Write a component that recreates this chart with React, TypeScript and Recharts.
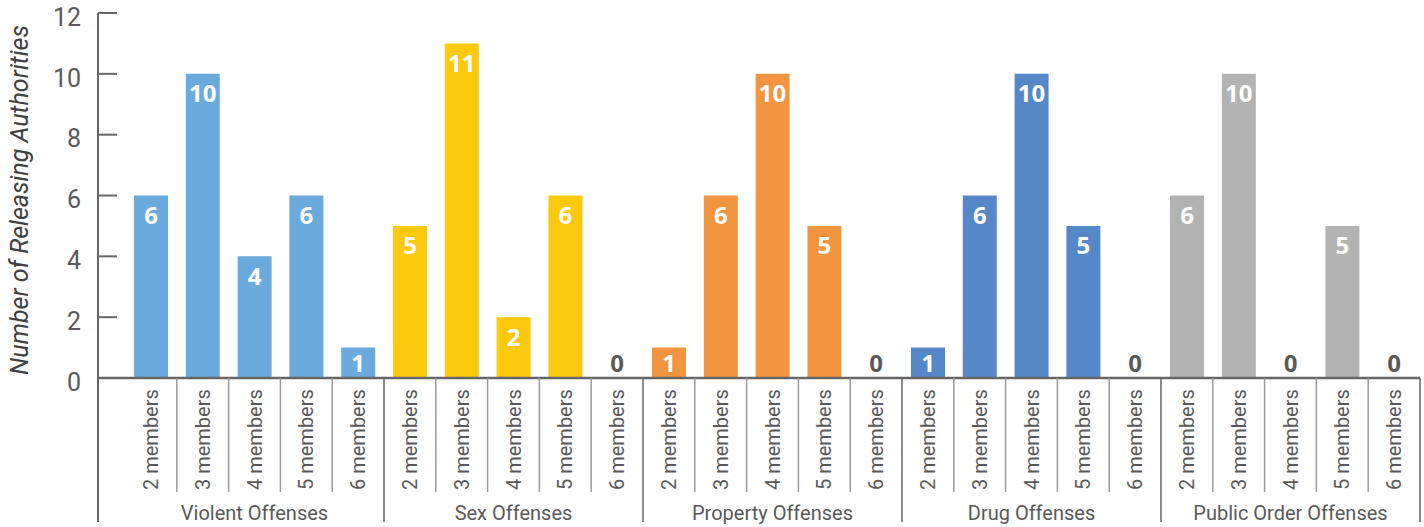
import React from 'react';
import { BarChart, Bar, XAxis, YAxis, Cell, LabelList } from 'recharts';

const groups = ['Violent Offenses', 'Sex Offenses', 'Property Offenses', 'Drug Offenses', 'Public Order Offenses'];
const members = ['2 members', '3 members', '4 members', '5 members', '6 members'];
const groupColors = ['#6AAADD', '#FDC90C', '#F39440', '#5687C8', '#B3B3B3'];

const violent = [6, 10, 4, 6, 1];
const sex = [5, 11, 2, 6, 0];
const property = [1, 6, 10, 5, 0];
const drug = [1, 6, 10, 5, 0];
const publicOrder = [6, 10, 0, 5, 0];
const yTicks = [0, 2, 4, 6, 8, 10, 12];

const seriesByGroup = [violent, sex, property, drug, publicOrder];

const data = groups.flatMap((g, gi) =>
  members.map((m, mi) => ({
    key: `${g}-${m}`,
    group: g,
    member: m,
    value: seriesByGroup[gi][mi],
    color: groupColors[gi],
  }))
);

const W = 1424;
const H = 527;
const PLOT_LEFT = 98;
const PLOT_RIGHT = 1420;
const PLOT_TOP = 13;
const PLOT_BOTTOM = 378;
const PAD_LEFT = 27;
const BAND = (PLOT_RIGHT - PLOT_LEFT - PAD_LEFT) / data.length;
const AXIS = '#666666';
const TEXT = '#595959';
const FONT = 'Roboto, "Open Sans", sans-serif';
const LABEL_FONT = '"Open Sans", Roboto, sans-serif';

function YTick({ y, payload }: any) {
  return (
    <g>
      <line x1={PLOT_LEFT} x2={PLOT_LEFT + 19} y1={y} y2={y} stroke={AXIS} strokeWidth={2} />
      <text x={PLOT_LEFT - 17} y={y + 4} dy="0.35em" textAnchor="end" fontSize={25} fill={TEXT} fontFamily={FONT}>
        {payload.value}
      </text>
    </g>
  );
}

function XTick({ x, index }: any) {
  const d = data[index];
  const right = x + BAND / 2;
  const groupEnd = index % 5 === 4;
  return (
    <g>
      {index === 0 && (
        <line x1={PLOT_LEFT} x2={PLOT_LEFT} y1={PLOT_BOTTOM} y2={522} stroke={AXIS} strokeWidth={2} />
      )}
      <line
        x1={right}
        x2={right}
        y1={PLOT_BOTTOM}
        y2={groupEnd ? 522 : 492}
        stroke={groupEnd ? AXIS : '#9a9a9a'}
        strokeWidth={1.5}
      />
      <text
        x={x}
        y={490}
        transform={`rotate(-90 ${x} 490)`}
        textAnchor="start"
        dominantBaseline="central"
        fontSize={20}
        fill={TEXT}
        fontFamily={FONT}
      >
        {d.member}
      </text>
      {index % 5 === 2 && (
        <text x={x} y={513} textAnchor="middle" dominantBaseline="central" fontSize={20} fill={TEXT} fontFamily={FONT}>
          {d.group}
        </text>
      )}
    </g>
  );
}

function ValueLabel({ x, y, width, value }: any) {
  const cx = x + width / 2;
  const cy = Math.min(y + 19, PLOT_BOTTOM - 16);
  return (
    <text
      x={cx}
      y={cy}
      textAnchor="middle"
      dominantBaseline="central"
      fontSize={24}
      fontWeight={700}
      fill={value === 0 ? TEXT : '#ffffff'}
      fontFamily={LABEL_FONT}
    >
      {value}
    </text>
  );
}

export default function App() {
  return (
    <div style={{ position: 'absolute', left: 0, top: 0, background: '#fff' }}>
      <BarChart
        width={W}
        height={H}
        data={data}
        margin={{ top: PLOT_TOP, right: W - PLOT_RIGHT, left: 0, bottom: 0 }}
      >
        <XAxis
          dataKey="key"
          type="category"
          interval={0}
          height={H - PLOT_BOTTOM}
          padding={{ left: PAD_LEFT, right: 0 }}
          tickLine={false}
          tickSize={0}
          tickMargin={0}
          axisLine={{ stroke: AXIS, strokeWidth: 2.5 }}
          tick={<XTick />}
        />
        <YAxis
          domain={[0, 12]}
          ticks={yTicks}
          width={PLOT_LEFT}
          tickLine={false}
          tickSize={0}
          tickMargin={0}
          axisLine={{ stroke: AXIS, strokeWidth: 2 }}
          tick={<YTick />}
          label={{
            content: () => (
              <text
                x={19}
                y={200}
                transform="rotate(-90 19 200)"
                textAnchor="middle"
                dominantBaseline="central"
                fontSize={25}
                fontStyle="italic"
                fill="#404040"
                fontFamily={FONT}
              >
                Number of Releasing Authorities
              </text>
            ),
          }}
        />
        <Bar dataKey="value" barSize={34} minPointSize={0.01} isAnimationActive={false}>
          {data.map((d) => (
            <Cell key={d.key} fill={d.value === 0 ? 'transparent' : d.color} />
          ))}
          <LabelList dataKey="value" content={<ValueLabel />} />
        </Bar>
      </BarChart>
    </div>
  );
}
